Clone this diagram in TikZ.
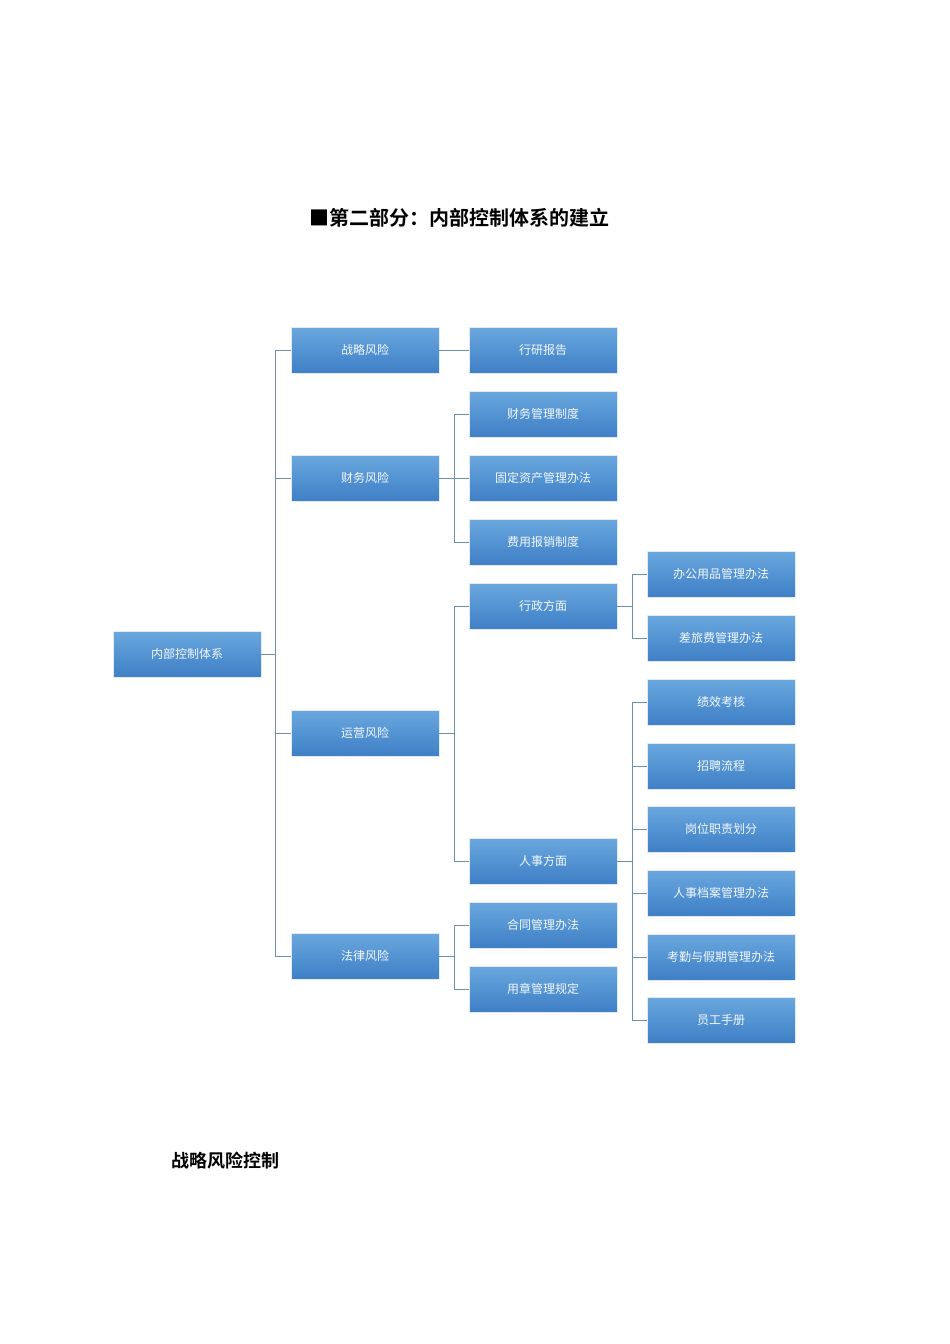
\documentclass[tikz,border=0pt]{standalone}
\usepackage{fontspec}
\setmainfont{Noto Sans CJK SC}
\newfontfamily\cjkb{Noto Sans CJK SC Bold}
\definecolor{btop}{HTML}{6AA8DE}
\definecolor{bbot}{HTML}{3E7FC6}
\definecolor{lnc}{HTML}{6F90AA}
\begin{document}
\begin{tikzpicture}[x=1pt,y=-1pt,
  bx/.style={minimum width=148pt,minimum height=46pt,inner sep=0pt,top color=btop,bottom color=bbot,draw=white!85!bbot,line width=0.6pt,text=white!92!btop,font=\fontsize{12}{12}\selectfont},
  ln/.style={draw=lnc,line width=0.9pt}]
\useasboundingbox (0,0) rectangle (950,1344);
\node[font=\cjkb\fontsize{20}{20}\selectfont] (title) at (459,218) {■第二部分：内部控制体系的建立};
\node[font=\cjkb\fontsize{18}{18}\selectfont,anchor=west] (foot) at (168,1161) {战略风险控制};
\node[bx] (root) at (187,654) {内部控制体系};
\node[bx] (a1) at (365,350) {战略风险};
\node[bx] (a2) at (365,478) {财务风险};
\node[bx] (a3) at (365,733) {运营风险};
\node[bx] (a4) at (365,956) {法律风险};
\node[bx] (b1) at (543,350) {行研报告};
\node[bx] (b2) at (543,414) {财务管理制度};
\node[bx] (b3) at (543,478) {固定资产管理办法};
\node[bx] (b4) at (543,542) {费用报销制度};
\node[bx] (b5) at (543,606) {行政方面};
\node[bx] (b6) at (543,861) {人事方面};
\node[bx] (b7) at (543,925) {合同管理办法};
\node[bx] (b8) at (543,989) {用章管理规定};
\node[bx] (c1) at (721,574) {办公用品管理办法};
\node[bx] (c2) at (721,638) {差旅费管理办法};
\node[bx] (c3) at (721,702) {绩效考核};
\node[bx] (c4) at (721,766) {招聘流程};
\node[bx] (c5) at (721,829) {岗位职责划分};
\node[bx] (c6) at (721,893) {人事档案管理办法};
\node[bx] (c7) at (721,957) {考勤与假期管理办法};
\node[bx] (c8) at (721,1020) {员工手册};
% root to col2
\draw[ln] (root.east) -- (275,654);
\draw[ln] (a1.west) -| (275,956) -- (a4.west);
\draw[ln] (a2.west) -- (275,478);
\draw[ln] (a3.west) -- (275,733);
% col2 to col3
\draw[ln] (a1.east) -- (b1.west);
\draw[ln] (b2.west) -| (454,542) -- (b4.west);
\draw[ln] (a2.east) -- (b3.west);
\draw[ln] (b5.west) -| (454,861) -- (b6.west);
\draw[ln] (a3.east) -- (454,733);
\draw[ln] (b7.west) -| (454,989) -- (b8.west);
\draw[ln] (a4.east) -- (454,956);
% col3 to col4
\draw[ln] (c1.west) -| (632,638) -- (c2.west);
\draw[ln] (b5.east) -- (632,606);
\draw[ln] (c3.west) -| (632,1020) -- (c8.west);
\draw[ln] (b6.east) -- (632,861);
\foreach \n in {c4,c5,c6,c7} \draw[ln] (\n.west) -- ++(-15,0);
\end{tikzpicture}
\end{document}
